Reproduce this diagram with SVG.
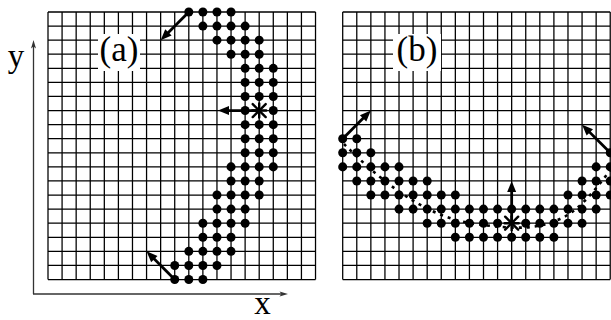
<svg xmlns="http://www.w3.org/2000/svg" width="611" height="320" viewBox="0 0 611 320">
<style>
.grid{fill:none;stroke:#000;stroke-width:0.09}
.d{fill:#000}
.arr{fill:none;stroke:#000;stroke-width:2.8;marker-end:url(#ah)}
.star{stroke:#000;stroke-width:2.4;stroke-linecap:round}
.axis{fill:none;stroke:#333;stroke-width:1.3}
.lbl{fill:#000}
.curve{fill:none;stroke:#000;stroke-width:2.6;stroke-dasharray:3 5}
</style>
<defs>
<marker id="ah" markerUnits="userSpaceOnUse" markerWidth="12" markerHeight="10" refX="5" refY="4.5" orient="auto" overflow="visible">
<path d="M0,0 L11,4.5 L0,9 z" fill="#000"/>
</marker>
<path id="gridlines" d="M0 0V19M1 0V19M2 0V19M3 0V19M4 0V19M5 0V19M6 0V19M7 0V19M8 0V19M9 0V19M10 0V19M11 0V19M12 0V19M13 0V19M14 0V19M15 0V19M16 0V19M17 0V19M18 0V19M19 0V19M0 0H19M0 1H19M0 2H19M0 3H19M0 4H19M0 5H19M0 6H19M0 7H19M0 8H19M0 9H19M0 10H19M0 11H19M0 12H19M0 13H19M0 14H19M0 15H19M0 16H19M0 17H19M0 18H19M0 19H19"/>
<g id="starshape">
<line x1="-6.5" y1="-6.5" x2="6.5" y2="6.5"/>
<line x1="-6.5" y1="6.5" x2="6.5" y2="-6.5"/>
<line x1="-7" y1="0" x2="7" y2="0"/>
<line x1="0" y1="-7" x2="0" y2="7"/>
</g>
</defs>
<rect width="611" height="320" fill="#fff"/>

<g id="axes">
<line class="axis" x1="33.5" y1="294" x2="33.5" y2="46"/>
<path d="M33.5,40 L31,48.5 L33.5,46.5 L36,48.5 z" fill="#333"/>
<line class="axis" x1="33" y1="294" x2="282" y2="294"/>
<path d="M288,294 L279.5,291.5 L281.5,294 L279.5,296.5 z" fill="#333"/>
<text class="lbl" x="16" y="67" font-family="'Liberation Serif', 'DejaVu Serif', serif" font-size="33" text-anchor="middle">y</text>
<text class="lbl" x="262.5" y="314" font-family="'Liberation Serif', 'DejaVu Serif', serif" font-size="33" text-anchor="middle">x</text>
</g>

<g id="panel-a">
<g transform="translate(48,12) scale(14.08)">
<use href="#gridlines" class="grid"/>
<g class="d">
<circle cx="10" cy="0" r="0.32"/><circle cx="11" cy="0" r="0.32"/><circle cx="12" cy="0" r="0.32"/><circle cx="13" cy="0" r="0.32"/>
<circle cx="11" cy="1" r="0.32"/><circle cx="12" cy="1" r="0.32"/><circle cx="13" cy="1" r="0.32"/><circle cx="14" cy="1" r="0.32"/>
<circle cx="12" cy="2" r="0.32"/><circle cx="13" cy="2" r="0.32"/><circle cx="14" cy="2" r="0.32"/><circle cx="15" cy="2" r="0.32"/>
<circle cx="13" cy="3" r="0.32"/><circle cx="14" cy="3" r="0.32"/><circle cx="15" cy="3" r="0.32"/>
<circle cx="14" cy="4" r="0.32"/><circle cx="15" cy="4" r="0.32"/><circle cx="16" cy="4" r="0.32"/>
<circle cx="14" cy="5" r="0.32"/><circle cx="15" cy="5" r="0.32"/><circle cx="16" cy="5" r="0.32"/>
<circle cx="14" cy="6" r="0.32"/><circle cx="15" cy="6" r="0.32"/><circle cx="16" cy="6" r="0.32"/>
<circle cx="14" cy="7" r="0.32"/><circle cx="16" cy="7" r="0.32"/>
<circle cx="14" cy="8" r="0.32"/><circle cx="15" cy="8" r="0.32"/><circle cx="16" cy="8" r="0.32"/>
<circle cx="14" cy="9" r="0.32"/><circle cx="15" cy="9" r="0.32"/><circle cx="16" cy="9" r="0.32"/>
<circle cx="14" cy="10" r="0.32"/><circle cx="15" cy="10" r="0.32"/><circle cx="16" cy="10" r="0.32"/>
<circle cx="13" cy="11" r="0.32"/><circle cx="14" cy="11" r="0.32"/><circle cx="15" cy="11" r="0.32"/><circle cx="16" cy="11" r="0.32"/>
<circle cx="13" cy="12" r="0.32"/><circle cx="14" cy="12" r="0.32"/><circle cx="15" cy="12" r="0.32"/>
<circle cx="12" cy="13" r="0.32"/><circle cx="13" cy="13" r="0.32"/><circle cx="14" cy="13" r="0.32"/><circle cx="15" cy="13" r="0.32"/>
<circle cx="12" cy="14" r="0.32"/><circle cx="13" cy="14" r="0.32"/><circle cx="14" cy="14" r="0.32"/>
<circle cx="11" cy="15" r="0.32"/><circle cx="12" cy="15" r="0.32"/><circle cx="13" cy="15" r="0.32"/><circle cx="14" cy="15" r="0.32"/>
<circle cx="11" cy="16" r="0.32"/><circle cx="12" cy="16" r="0.32"/><circle cx="13" cy="16" r="0.32"/>
<circle cx="10" cy="17" r="0.32"/><circle cx="11" cy="17" r="0.32"/><circle cx="12" cy="17" r="0.32"/><circle cx="13" cy="17" r="0.32"/>
<circle cx="9" cy="18" r="0.32"/><circle cx="10" cy="18" r="0.32"/><circle cx="11" cy="18" r="0.32"/><circle cx="12" cy="18" r="0.32"/>
<circle cx="9" cy="19" r="0.32"/><circle cx="10" cy="19" r="0.32"/><circle cx="11" cy="19" r="0.32"/>
</g>
</g>
<use href="#starshape" class="star" x="259.2" y="110.56"/>
<rect x="98" y="34" width="42" height="37" fill="#fff"/>
<text class="lbl" x="119" y="61" font-family="'Liberation Serif', 'DejaVu Serif', serif" font-size="35" text-anchor="middle">(a)</text>
</g>

<g id="panel-b">
<g transform="translate(342.7,12) scale(14.08)">
<use href="#gridlines" class="grid"/>
<g class="d">
<circle cx="0" cy="9" r="0.32"/><circle cx="1" cy="9" r="0.32"/>
<circle cx="0" cy="10" r="0.32"/><circle cx="1" cy="10" r="0.32"/><circle cx="2" cy="10" r="0.32"/><circle cx="19" cy="10" r="0.32"/>
<circle cx="0" cy="11" r="0.32"/><circle cx="1" cy="11" r="0.32"/><circle cx="2" cy="11" r="0.32"/><circle cx="3" cy="11" r="0.32"/><circle cx="4" cy="11" r="0.32"/><circle cx="18" cy="11" r="0.32"/><circle cx="19" cy="11" r="0.32"/>
<circle cx="1" cy="12" r="0.32"/><circle cx="2" cy="12" r="0.32"/><circle cx="3" cy="12" r="0.32"/><circle cx="4" cy="12" r="0.32"/><circle cx="5" cy="12" r="0.32"/><circle cx="6" cy="12" r="0.32"/><circle cx="17" cy="12" r="0.32"/><circle cx="18" cy="12" r="0.32"/><circle cx="19" cy="12" r="0.32"/>
<circle cx="2" cy="13" r="0.32"/><circle cx="3" cy="13" r="0.32"/><circle cx="4" cy="13" r="0.32"/><circle cx="5" cy="13" r="0.32"/><circle cx="6" cy="13" r="0.32"/><circle cx="7" cy="13" r="0.32"/><circle cx="8" cy="13" r="0.32"/><circle cx="16" cy="13" r="0.32"/><circle cx="17" cy="13" r="0.32"/><circle cx="18" cy="13" r="0.32"/><circle cx="19" cy="13" r="0.32"/>
<circle cx="4" cy="14" r="0.32"/><circle cx="5" cy="14" r="0.32"/><circle cx="6" cy="14" r="0.32"/><circle cx="7" cy="14" r="0.32"/><circle cx="8" cy="14" r="0.32"/><circle cx="9" cy="14" r="0.32"/><circle cx="10" cy="14" r="0.32"/><circle cx="11" cy="14" r="0.32"/><circle cx="12" cy="14" r="0.32"/><circle cx="13" cy="14" r="0.32"/><circle cx="14" cy="14" r="0.32"/><circle cx="15" cy="14" r="0.32"/><circle cx="16" cy="14" r="0.32"/><circle cx="17" cy="14" r="0.32"/><circle cx="18" cy="14" r="0.32"/>
<circle cx="6" cy="15" r="0.32"/><circle cx="7" cy="15" r="0.32"/><circle cx="8" cy="15" r="0.32"/><circle cx="9" cy="15" r="0.32"/><circle cx="10" cy="15" r="0.32"/><circle cx="11" cy="15" r="0.32"/><circle cx="13" cy="15" r="0.32"/><circle cx="14" cy="15" r="0.32"/><circle cx="15" cy="15" r="0.32"/><circle cx="16" cy="15" r="0.32"/><circle cx="17" cy="15" r="0.32"/>
<circle cx="8" cy="16" r="0.32"/><circle cx="9" cy="16" r="0.32"/><circle cx="10" cy="16" r="0.32"/><circle cx="11" cy="16" r="0.32"/><circle cx="12" cy="16" r="0.32"/><circle cx="13" cy="16" r="0.32"/><circle cx="14" cy="16" r="0.32"/><circle cx="15" cy="16" r="0.32"/>
</g>
</g>
<path class="curve" d="M344,144 C375,175 420,215 470,223 S540,228 560,219 S595,190 612,168"/>
<use href="#starshape" class="star" x="511.66" y="223.2"/>
<rect x="393" y="34" width="48" height="37" fill="#fff"/>
<text class="lbl" x="417" y="61" font-family="'Liberation Serif', 'DejaVu Serif', serif" font-size="35" text-anchor="middle">(b)</text>
</g>

<g id="connectors">
<line class="arr" x1="188.8" y1="12" x2="164.88" y2="35.92"/>
<line class="arr" x1="259.2" y1="110.56" x2="224" y2="110.56"/>
<line class="arr" x1="174.72" y1="279.52" x2="150.8" y2="255.6"/>
<line class="arr" x1="342.7" y1="138.72" x2="366.62" y2="114.8"/>
<line class="arr" x1="610.22" y1="152.8" x2="586.3" y2="128.88"/>
<line class="arr" x1="511.66" y1="223.2" x2="511.66" y2="187"/>
</g>
</svg>
